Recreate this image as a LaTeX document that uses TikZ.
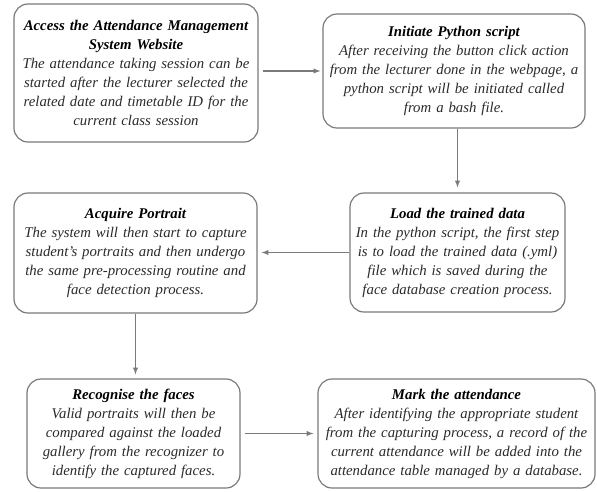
\documentclass[tikz,border=0pt]{standalone}
\usepackage{fontspec}
\setmainfont{Liberation Serif}
\usetikzlibrary{arrows}
\definecolor{framegray}{HTML}{7A7A7A}
\definecolor{textgray}{HTML}{2A2A2A}
\tikzset{
  stage_/.style = {shape=rectangle, draw=framegray, line width=1.2pt, rounded corners=14pt,
                   align=center, inner xsep=4pt, inner ysep=2pt, text=textgray,
                   font=\fontsize{14.8}{19}\selectfont\itshape},
  flow_/.style  = {draw=framegray, line width=1.3pt, -latex}
}

\begin{document}
\begin{tikzpicture}[x=1pt, y=-1pt]
  \useasboundingbox (0,0) rectangle (597,491);
  % top row
  \node [stage_, text width=236pt, minimum height=138pt] (access) at (136,73)
    {\textcolor{black}{\textbf{Access the Attendance Management\\ System Website}}\\
     The attendance taking session can be\\ started after the lecturer selected the\\
     related date and timetable ID for the\\ current class session};
  \node [stage_, text width=254pt, minimum height=114pt] (python) at (454,71)
    {\textcolor{black}{\textbf{Initiate Python script}}\\
     After receiving the button click action\\ from the lecturer done in the webpage, a\\
     python script will be initiated called\\ from a bash file.};
  % middle row
  \node [stage_, text width=235pt, minimum height=120pt] (portrait) at (135.5,253)
    {\textcolor{black}{\textbf{Acquire Portrait}}\\
     The system will then start to capture\\ student’s portraits and then undergo\\
     the same pre-processing routine and\\ face detection process.};
  \node [stage_, text width=207pt, minimum height=119pt] (trained) at (457.5,252.5)
    {\textcolor{black}{\textbf{Load the trained data}}\\
     In the python script, the first step\\ is to load the trained data (.yml)\\
     file which is saved during the\\ face database creation process.};
  % bottom row
  \node [stage_, text width=205pt, minimum height=109pt] (recognise) at (133.5,433.5)
    {\textcolor{black}{\textbf{Recognise the faces}}\\
     Valid portraits will then be\\ compared against the loaded\\
     gallery from the recognizer to\\ identify the captured faces.};
  \node [stage_, text width=269pt, minimum height=109pt] (mark) at (456.5,433.5)
    {\textcolor{black}{\textbf{Mark the attendance}}\\
     After identifying the appropriate student\\ from the capturing process, a record of the\\
     current attendance will be added into the\\ attendance table managed by a database.};
  % connectors
  \draw [flow_, shorten <=4pt, shorten >=2pt] (access.east |- python.west) -- (python.west);
  \draw [flow_, shorten >=5pt] (python.south -| trained.north) -- (trained.north);
  \draw [flow_, shorten >=4pt] (trained.west) -- (trained.west -| portrait.east);
  \draw [flow_, shorten >=4pt] (portrait.south) -- (portrait.south |- recognise.north);
  \draw [flow_, shorten <=4pt, shorten >=4pt] (recognise.east) -- (recognise.east -| mark.west);
\end{tikzpicture}
\end{document}
